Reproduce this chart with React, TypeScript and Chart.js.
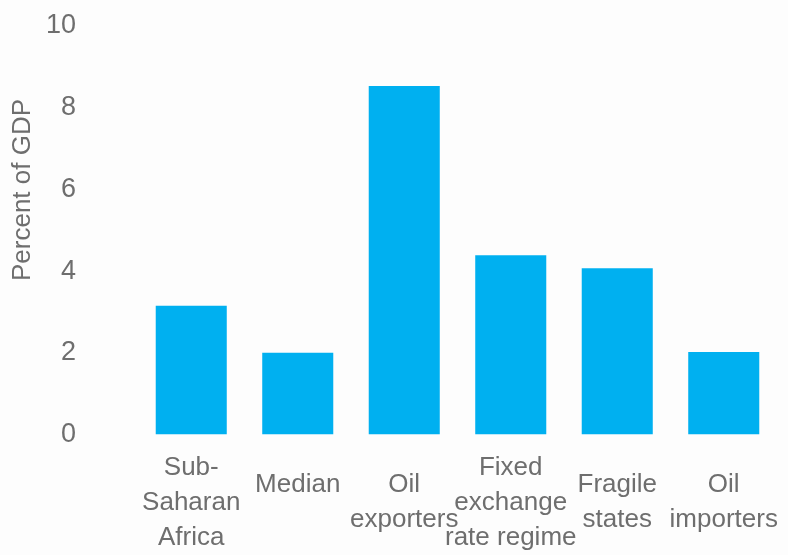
import React, { useEffect, useRef } from "react";
import { Chart, registerables } from "chart.js";

Chart.register(...registerables);

const categories: string[][] = [
  ["Sub-", "Saharan", "Africa"],
  ["Median", ""],
  ["Oil", "exporters"],
  ["Fixed", "exchange", "rate regime"],
  ["Fragile", "states"],
  ["Oil", "importers"],
];
const values: number[] = [3.15, 2.0, 8.53, 4.39, 4.07, 2.02];
const yTicks: number[] = [0, 2, 4, 6, 8, 10];
const yTitle = "Percent of GDP";

const FONT = "'Liberation Sans', Arial, sans-serif";
const TEXT = "#6E6E6E";
const BAR = "#00B0F0";

const yTitlePlugin = {
  id: "yTitlePlugin",
  afterDraw(chart: any) {
    const ctx = chart.ctx;
    ctx.save();
    ctx.translate(23, 190);
    ctx.rotate(-Math.PI / 2);
    ctx.font = `26px ${FONT}`;
    ctx.fillStyle = TEXT;
    ctx.textAlign = "center";
    ctx.textBaseline = "middle";
    ctx.fillText(yTitle, 0, 0);
    ctx.restore();
  },
};

export default function App() {
  const ref = useRef<HTMLCanvasElement | null>(null);
  useEffect(() => {
    if (!ref.current) return;
    const chart = new Chart(ref.current, {
      type: "bar",
      data: {
        labels: categories,
        datasets: [
          {
            data: values,
            backgroundColor: BAR,
            borderWidth: 0,
            barPercentage: 0.667,
            categoryPercentage: 1,
          },
        ],
      },
      options: {
        responsive: false,
        animation: false,
        layout: { padding: { top: 26, right: 11, left: 0, bottom: 0 } },
        plugins: { legend: { display: false }, tooltip: { enabled: false } },
        scales: {
          x: {
            grid: { display: false, drawTicks: false },
            border: { display: false },
            ticks: {
              color: TEXT,
              font: { family: FONT, size: 26, lineHeight: 1.35 },
              padding: 33,
              crossAlign: "center",
              maxRotation: 0,
              autoSkip: false,
            },
            afterFit: (s: any) => {
              s.height = 120.5;
              s.paddingLeft = 0;
              s.paddingRight = 0;
            },
          },
          y: {
            min: 0,
            max: 10,
            grid: { display: false, drawTicks: false },
            border: { display: false },
            afterBuildTicks: (s: any) => {
              s.ticks = yTicks.map((v) => ({ value: v }));
            },
            ticks: {
              color: TEXT,
              font: { family: FONT, size: 27 },
              padding: 62,
            },
            afterFit: (s: any) => {
              s.width = 138;
              s.paddingTop = 0;
              s.paddingBottom = 0;
            },
          },
        },
      },
      plugins: [yTitlePlugin],
    });
    return () => chart.destroy();
  }, []);
  return (
    <div style={{ position: "absolute", left: 0, top: 0, width: 788, height: 555, background: "#FDFDFD" }}>
      <canvas ref={ref} width={788} height={555} />
    </div>
  );
}
